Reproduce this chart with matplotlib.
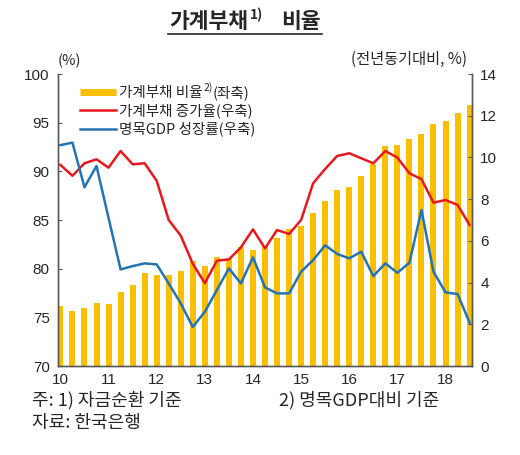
import matplotlib
matplotlib.use('Agg')
import matplotlib.pyplot as plt
from matplotlib.lines import Line2D
import numpy as np

# ---- data (2010Q1 .. 2018Q3) ----
year_labels = ['10', '11', '12', '13', '14', '15', '16', '17', '18']
debt_ratio = [76.2, 75.65, 76.0, 76.5, 76.4, 77.6, 78.3, 79.6, 79.4, 79.4,
              79.8, 80.8, 80.3, 81.2, 81.1, 82.2, 81.9, 82.3, 83.2, 84.1,
              84.4, 85.7, 87.0, 88.1, 88.35, 89.5, 90.8, 92.6, 92.7, 93.3,
              93.8, 94.9, 95.2, 96.0, 96.8]
debt_growth = [9.64, 9.12, 9.72, 9.91, 9.51, 10.31, 9.67, 9.72, 8.88, 7.0,
               6.25, 4.9, 3.97, 5.05, 5.11, 5.69, 6.55, 5.64, 6.52, 6.33,
               7.0, 8.76, 9.45, 10.07, 10.2, 9.96, 9.72, 10.31, 9.99, 9.24,
               8.96, 7.83, 7.96, 7.72, 6.76]
gdp_growth = [10.59, 10.71, 8.57, 9.59, 7.1, 4.63, 4.79, 4.92, 4.87, 3.96,
              3.0, 1.87, 2.6, 3.64, 4.68, 3.96, 5.21, 3.77, 3.48, 3.48,
              4.52, 5.08, 5.79, 5.37, 5.16, 5.48, 4.31, 4.92, 4.47, 4.95,
              7.48, 4.52, 3.53, 3.45, 2.08]
legend_labels = ['가계부채 비율', '가계부채 증가율(우축)', '명목GDP 성장률(우축)']

KR = ['Noto Sans CJK KR', 'DejaVu Sans']
NUM = ['Liberation Sans', 'DejaVu Sans']
BAR_C = '#FBBE00'
RED_C = '#E8191E'
BLUE_C = '#2374B4'
SPINE_C = '#595959'
TXT_C = '#262626'

W, H = 520, 455
fig = plt.figure(figsize=(W / 100, H / 100), dpi=100)

def fx(px):
    return px / W

def fy(py):
    return 1 - py / H

ax = fig.add_axes([fx(58), fy(366), fx(472) - fx(58), fy(74) - fy(366)])
ax2 = ax.twinx()

x = np.arange(len(debt_ratio))
ax.bar(x, debt_ratio, width=0.5, color=BAR_C, zorder=2)
ax.set_ylim(70, 100)
ax.set_yticks(range(70, 101, 5))
ax.set_xlim(-0.2, 34.2)
ax.set_xticks(range(0, 36, 4))
ax.set_xticklabels(year_labels)

ax2.plot(x, debt_growth, color=RED_C, lw=1.8, zorder=3)
ax2.plot(x, gdp_growth, color=BLUE_C, lw=1.8, zorder=3)
ax2.set_ylim(0, 14)
ax2.set_yticks(range(0, 15, 2))

for a in (ax, ax2):
    a.spines['top'].set_visible(False)
    for s in ('left', 'right', 'bottom'):
        a.spines[s].set_color(SPINE_C)
        a.spines[s].set_linewidth(1.0)
    a.tick_params(direction='in', length=3, color=SPINE_C, labelsize=11,
                  labelcolor=TXT_C, pad=6)
    for lab in a.get_xticklabels() + a.get_yticklabels():
        lab.set_family(NUM)
ax.tick_params(axis='x', pad=5)

# unit labels
fig.text(fx(58), fy(61), '(%)', family=KR, fontsize=10.5, color=TXT_C,
         ha='left', va='center')
fig.text(fx(467), fy(59), '(전년동기대비, %)', family=KR, fontsize=11,
         color=TXT_C, ha='right', va='center')

# legend
handles = [Line2D([], [], color=BAR_C, lw=5, solid_capstyle='butt'),
           Line2D([], [], color=RED_C, lw=1.8),
           Line2D([], [], color=BLUE_C, lw=1.8)]
leg = ax2.legend(handles, legend_labels, loc='upper left',
                 bbox_to_anchor=((80 - 58) / 414, (366 - 86) / 292),
                 frameon=False, prop={'family': KR, 'size': 10.5},
                 handlelength=2.5, handletextpad=0.15, labelspacing=0.24,
                 borderpad=0, borderaxespad=0)
for t in leg.get_texts():
    t.set_color(TXT_C)

# title pieces
title = fig.text(fx(169), fy(22), '가계부채', family=KR, fontsize=15.5,
                 fontweight='bold', color=TXT_C, ha='left', va='center')

fig.canvas.draw()
r = fig.canvas.get_renderer()
inv = fig.transFigure.inverted()

# legend superscript and suffix
bb = leg.get_texts()[0].get_window_extent(r)
p = inv.transform((bb.x1 + 1, bb.y1 + 4))
sup = fig.text(p[0], p[1], '2)', family=KR, fontsize=7.5, color=TXT_C,
               ha='left', va='top')
spb = sup.get_window_extent(r)
p = inv.transform((spb.x1 + 0.5, bb.y0))
fig.text(p[0], p[1], '(좌축)', family=KR, fontsize=10.5, color=TXT_C,
         ha='left', va='bottom')

tb = title.get_window_extent(r)
p = inv.transform((tb.x1 + 2, tb.y1 + 4))
sup1 = fig.text(p[0], p[1], '1)', family=KR, fontsize=10,
                fontweight='bold', color=TXT_C, ha='left', va='top')
sb = sup1.get_window_extent(r)
p = inv.transform((sb.x1 + 18, (tb.y0 + tb.y1) / 2))
t2 = fig.text(p[0], p[1], '비율', family=KR, fontsize=15.5,
              fontweight='bold', color=TXT_C, ha='left', va='center')
eb = t2.get_window_extent(r)
x0 = inv.transform((tb.x0 - 1, 0))[0]
x1 = inv.transform((eb.x1 + 1, 0))[0]
fig.add_artist(Line2D([x0, x1], [fy(33.5), fy(33.5)],
                      transform=fig.transFigure, color=TXT_C, lw=1.2))

# footnotes
fig.text(fx(32), fy(400), '주: 1) 자금순환 기준', family=KR, fontsize=13,
         color=TXT_C, ha='left', va='center')
fig.text(fx(279), fy(400), '2) 명목GDP대비 기준', family=KR, fontsize=13,
         color=TXT_C, ha='left', va='center')
fig.text(fx(32), fy(423), '자료: 한국은행', family=KR, fontsize=13,
         color=TXT_C, ha='left', va='center')

fig.savefig('out.png', dpi=100)
